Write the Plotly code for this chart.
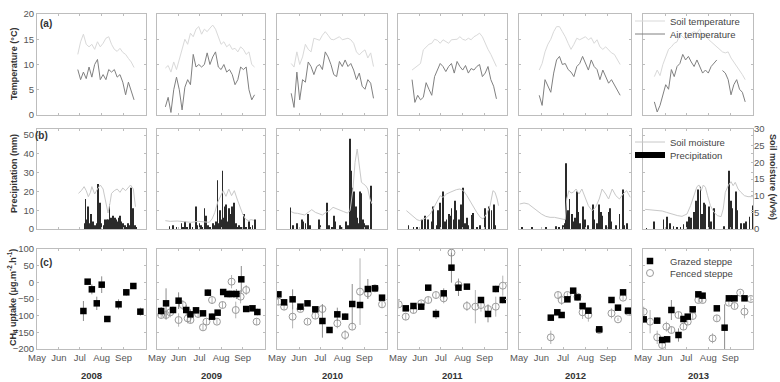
import plotly.graph_objects as go

W, H = 780, 382
YEARS = [2008, 2009, 2010, 2011, 2012, 2013]
MONTH_DOY = [121, 152, 182, 213, 244]
MONTH_LABELS = ["May", "Jun", "Jul", "Aug", "Sep"]
X_RANGE = [121, 276]

# ---------------- (a) temperature, sampled every 4 days ----------------
T_STEP = 4
t_start_2008, t_start_2009, t_start_2010 = 179, 133, 141
t_start_2011, t_start_2012, t_start_2013 = 141, 149, 137
soil_t_2008 = [12.0,14.5,16.0,14.0,13.5,14.0,13.0,14.5,13.5,14.2,15.2,15.5,14.0,13.0,12.6,13.2,12.4,12.0,11.2,10.5,9.4]
air_t_2008 = [9.0,7.0,8.5,7.2,9.5,7.5,10.0,11.0,7.0,8.0,7.0,9.0,8.5,9.0,7.5,8.0,6.5,4.0,6.5,4.5,3.0]
soil_t_2009 = [9.3,9.8,8.5,10.5,9.0,11.0,12.5,15.0,14.0,16.2,15.5,17.0,17.5,16.0,17.0,16.5,17.2,17.8,17.0,15.5,14.0,14.5,13.5,14.0,13.0,13.2,12.5,13.5,13.0,12.0,12.5,10.0,9.5]
air_t_2009 = [1.6,3.5,0.5,5.0,7.5,5.0,1.0,5.5,7.0,6.0,12.0,9.5,10.0,9.5,10.0,12.3,10.0,11.5,12.5,9.5,9.0,10.0,8.5,9.0,8.0,6.0,7.0,9.5,9.0,9.5,5.0,3.0,4.0]
soil_t_2010 = [10.2,9.5,12.5,10.0,11.5,14.0,13.0,12.5,15.2,15.0,14.8,15.8,16.5,15.8,15.0,14.9,15.2,15.5,14.9,15.0,15.2,14.9,14.2,12.5,11.9,12.5,12.9,11.3,12.3,9.6]
air_t_2010 = [4.3,1.5,8.5,3.0,7.0,6.5,10.5,9.6,8.0,9.6,10.0,9.0,12.5,11.5,10.0,8.0,7.6,10.6,9.6,10.9,9.6,10.2,8.9,7.0,8.3,5.7,5.1,7.0,6.3,3.3]
soil_t_2011 = [8.9,9.3,9.8,10.2,12.9,13.5,14.0,14.2,15.0,14.8,14.2,14.9,14.6,14.2,14.9,15.0,15.0,15.5,15.0,14.8,15.2,14.9,15.5,15.8,16.2,15.5,14.2,13.0,12.0,10.9,9.6]
air_t_2011 = [7.0,2.5,3.9,3.0,3.5,6.4,5.1,3.9,7.6,8.9,10.2,9.6,8.6,9.6,10.2,8.3,10.6,9.6,8.9,9.8,8.3,9.2,8.9,9.6,10.0,7.6,8.3,9.6,7.0,5.7,3.2]
soil_t_2012 = [8.9,10.2,12.5,14.0,15.0,16.5,17.5,17.5,16.5,15.5,14.2,13.0,14.0,15.2,14.9,15.2,15.5,14.9,15.3,14.2,14.9,13.5,13.0,13.5,12.9,12.3,12.0,11.0,10.0]
air_t_2012 = [3.9,1.9,7.0,5.7,4.5,8.3,10.9,11.6,10.0,10.2,9.0,8.5,7.6,9.6,10.2,11.6,10.2,8.9,10.9,9.6,9.0,7.0,8.9,7.6,6.3,7.0,6.0,5.0,3.9]
soil_t_2013 = [7.6,8.9,7.8,10.0,11.5,13.0,13.5,14.2,14.5,16.0,15.5,14.9,15.5,16.2,16.5,16.2,17.0,15.5,16.2,15.0,14.5,14.0,13.5,13.0,12.5,12.3,12.5,11.3,10.5,9.6,9.0,8.0,7.0]
air_t_2013 = [2.6,0.6,1.9,3.9,6.0,5.1,9.0,7.6,9.6,10.2,12.0,10.9,11.6,10.5,9.6,10.9,9.6,8.3,8.9,8.3,9.6,10.2,10.9,None,8.8,8.3,7.0,4.0,6.0,7.0,5.1,4.5,2.6]

# ---------------- (b) soil moisture (v/v %) ----------------
sm_doy_2008 = [180,184,188,191,194,197,199,203,207,211,215,219,222,225,227,231,235,239,243,247,251,254,258,261]
sm_2008 = [10.7,11.5,12.7,11.5,9.7,11.0,12.7,10.5,12.0,13.2,12.0,8.0,4.8,8.0,10.7,11.5,12.0,11.0,12.3,11.5,12.5,13.2,12.0,6.7]
sm_doy_2009 = [133,140,150,160,170,180,190,196,200,204,208,212,216,220,224,228,232,236,240,244,248,252,256,260]
sm_2009 = [2.5,2.3,2.4,2.2,2.0,2.3,2.1,2.0,3.0,5.0,8.0,10.0,11.5,9.8,12.0,10.0,11.5,9.0,6.5,4.5,3.0,2.5,2.8,2.6]
sm_doy_2010 = [141,145,150,155,160,165,170,175,180,185,190,195,200,205,210,215,220,224,228,231,234,237,240,243,246,249,252,255]
sm_2010 = [5.2,4.8,4.7,4.5,4.2,5.0,5.8,5.0,4.5,4.2,5.0,5.5,6.5,6.0,5.5,5.2,4.8,5.5,12.0,20.0,24.0,19.0,14.0,13.5,13.0,12.0,9.0,7.5]
sm_doy_2011 = [133,138,143,148,152,157,162,167,171,176,181,185,190,195,200,204,209,214,219,223,228,233,238,242,247,252,256,259,262,264]
sm_2011 = [5.5,4.5,3.5,2.8,2.5,3.0,3.5,4.5,6.0,8.0,10.0,9.5,10.5,11.0,11.5,11.8,12.0,11.5,10.0,8.5,7.0,5.0,3.5,3.0,4.5,7.0,11.5,11.0,9.0,7.0]
sm_doy_2012 = [122,128,134,140,146,152,158,164,170,176,182,185,187,190,193,196,200,204,208,212,217,222,227,232,236,241,245,250,255,260,265,270,275]
sm_2012 = [7.5,7.8,7.5,6.5,5.5,4.5,3.8,3.5,3.5,3.2,2.8,2.8,9.0,11.5,10.8,11.0,12.0,10.5,12.0,9.5,7.0,5.5,6.5,9.0,12.0,10.5,9.0,12.0,10.0,9.0,10.5,11.5,9.5]
sm_doy_2013 = [124,130,136,142,148,154,160,164,170,176,183,188,193,197,200,203,206,209,212,216,221,226,231,234,237,241,245,248,251,255,259,264,269,274,277]
sm_2013 = [5.9,5.8,5.7,5.7,5.4,5.0,4.6,4.2,4.0,3.8,4.5,7.0,10.0,12.7,13.2,11.5,13.2,12.5,10.0,7.0,5.0,4.0,3.7,6.0,11.0,13.0,14.2,13.0,14.0,12.0,11.0,10.0,9.7,9.7,9.7]

# ---------------- (b) daily precipitation (mm) ----------------
p_doy_2008 = [189,190,191,192,193,194,196,198,199,201,203,206,208,209,211,212,216,218,220,222,224,225,226,227,229,230,232,234,236,238,239,241,243,246,248,250,252,255,256,258,260,262]
p_2008 = [3,16,4,5,12,4,3,8,2,4,2,3,24,3,14,3,2,5,5,5,13,4,6,3,7,3,6,5,4,6,7,4,3,2,1,3,2,22,4,11,2,1]
p_doy_2009 = [139,144,149,156,158,161,164,168,172,177,179,182,184,186,189,191,194,197,201,204,206,208,210,211,213,215,216,218,220,222,224,225,227,229,230,232,234,236,239,242,246,249,253,255,258,262]
p_2009 = [1.5,2,1,3,1,4,1,3,1,12,2,3,2,1,11,7,2,1,3,2,4,26,3,10,5,31,6,12,13,4,11,5,8,12,3,14,3,1,2,1,8,1,4,1,2,5]
p_doy_2010 = [140,144,149,156,158,161,165,168,180,182,191,194,199,201,203,210,213,218,221,224,225,226,227,228,229,232,234,236,238,240,242,244,246,249,253]
p_2010 = [11.5,2,3,5,4,3,8,2,5,2,14,2,1,7,4,2,1,4,2,48,10,31,22,8,20,12,6,3,20,19,5,3,2,2,23]
p_doy_2011 = [136,143,148,155,159,164,169,171,176,178,181,185,188,190,193,195,197,200,202,204,208,211,213,216,219,221,226,228,233,238,245,250,254,257,259]
p_2011 = [2,1,1,5,7,5,4,12,2,10,14,20,4,5,8,7,11,5,15,10,5,13,22,3,6,2,7.5,8.5,1,2,11,12,10,13,2]
p_doy_2012 = [125,139,158,172,176,182,184,186,187,189,191,194,196,198,201,203,205,210,212,217,223,225,229,232,234,236,241,245,247,249,255,260,265,267,270]
p_2012 = [1,1,1,1.5,1,2,3,35,5,10,16,8,4,6,20,9,3,12,5,2,13,5,3,13,9,7,2,9,11,4,2,8,21,2,3]
p_doy_2013 = [126,136,150,155,159,164,169,174,178,183,186,189,193,196,199,202,204,207,209,214,217,221,235,242,245,247,252,254,259,263,266,271,276]
p_2013 = [0.5,4,5,6.5,3,1.5,1,1,2.5,4,6.5,6,9,15,21,22.5,8,14,13,12,4,11,1.5,31,15,11,20,10,3,3,4,6.5,12.5]

# ---------------- (c) CH4 uptake: grazed (g) and fenced (f) ----------------
g_doy_2008 = [187,193,199,206,213,221,237,248,258,268]
g_2008 = [-86,2,-21,-63,-7,-110,-66,-30,-11,-88]
g_err_2008 = [30,8,15,20,25,5,15,10,5,12]
f_doy_2008, f_2008, f_err_2008 = [], [], []

g_doy_2009 = [127,134,144,152,163,169,177,187,194,200,208,216,222,228,235,242,249,258,265]
g_2009 = [-86,-63,-83,-55,-83,-96,-84,-93,-31,-103,-91,-29,-35,-35,-35,9,-80,-78,-89]
g_err_2009 = [12,45,10,25,15,15,10,8,10,10,8,8,10,10,15,40,8,8,10]
f_doy_2009 = [127,134,140,152,158,165,169,180,187,192,200,207,215,228,234,241,249,264]
f_2009 = [-98,-98,-90,-113,-68,-108,-113,-95,-135,-118,-53,-118,-68,2,-83,-43,-23,-118]
f_err_2009 = [10,15,15,20,15,15,10,10,8,10,12,8,10,20,25,20,15,10]

g_doy_2010 = [123,131,143,154,164,175,185,195,206,217,227,238,249,259,269]
g_2010 = [-36,-60,-51,-73,-63,-81,-116,-143,-96,-103,-65,-68,-20,-18,-46]
g_err_2010 = [10,8,30,8,8,8,50,8,20,10,60,10,30,3,8]
f_doy_2010 = [123,131,143,154,164,175,185,206,217,227,238,249,259,269]
f_2010 = [-58,-73,-103,-80,-118,-100,-80,-123,-158,-133,-28,-33,-18,-66]
f_err_2010 = [10,10,35,8,8,10,15,15,15,10,100,15,5,10]

g_doy_2011 = [132,143,154,164,175,186,197,207,219,239,249,260,270]
g_2011 = [-78,-71,-73,-16,-95,-33,44,-16,-13,-53,-95,-20,-53]
g_err_2011 = [8,8,8,8,15,15,45,25,8,8,25,10,10]
f_doy_2011 = [122,132,143,154,164,175,186,197,207,219,231,239,249,260,270]
f_2011 = [-66,-103,-83,-63,-53,-38,-48,89,-8,-71,-73,-68,-80,-73,-10]
f_err_2011 = [8,10,10,8,10,10,15,10,20,15,50,20,15,30,30]

g_doy_2012 = [165,174,180,188,196,202,209,217,232,249,258,265,272]
g_2012 = [-106,-90,-98,-51,-25,-45,-71,-85,-141,-53,-76,-30,-85]
g_err_2012 = [8,5,5,8,5,5,8,8,5,5,8,8,8]
f_doy_2012 = [165,175,180,188,202,209,217,232,249,258,265,272]
f_2012 = [-165,-38,-53,-38,-43,-90,-98,-143,-93,-111,-46,-88]
f_err_2012 = [20,10,15,8,8,20,20,8,15,5,8,8]

g_doy_2013 = [122,141,148,155,161,171,178,184,191,199,205,225,236,242,250,264]
g_2013 = [-111,-115,-173,-171,-83,-158,-110,-103,-81,-36,-40,-78,-136,-48,-48,-48]
g_err_2013 = [10,10,8,8,30,20,8,8,8,5,5,8,70,8,8,8]
f_doy_2013 = [122,131,141,148,154,161,171,178,184,191,199,205,219,225,242,250,258,264,273]
f_2013 = [-88,-118,-165,-188,-133,-143,-98,-133,-118,-101,-53,-53,-168,-108,-61,-71,-31,-88,-50]
f_err_2013 = [15,35,20,10,15,10,10,10,10,10,8,8,15,10,8,8,5,20,8]

TEMP = [(t_start_2008, soil_t_2008, air_t_2008), (t_start_2009, soil_t_2009, air_t_2009),
        (t_start_2010, soil_t_2010, air_t_2010), (t_start_2011, soil_t_2011, air_t_2011),
        (t_start_2012, soil_t_2012, air_t_2012), (t_start_2013, soil_t_2013, air_t_2013)]
SM = [(sm_doy_2008, sm_2008), (sm_doy_2009, sm_2009), (sm_doy_2010, sm_2010),
      (sm_doy_2011, sm_2011), (sm_doy_2012, sm_2012), (sm_doy_2013, sm_2013)]
PRE = [(p_doy_2008, p_2008), (p_doy_2009, p_2009), (p_doy_2010, p_2010),
       (p_doy_2011, p_2011), (p_doy_2012, p_2012), (p_doy_2013, p_2013)]
CH4 = [(g_doy_2008, g_2008, g_err_2008, f_doy_2008, f_2008, f_err_2008),
       (g_doy_2009, g_2009, g_err_2009, f_doy_2009, f_2009, f_err_2009),
       (g_doy_2010, g_2010, g_err_2010, f_doy_2010, f_2010, f_err_2010),
       (g_doy_2011, g_2011, g_err_2011, f_doy_2011, f_2011, f_err_2011),
       (g_doy_2012, g_2012, g_err_2012, f_doy_2012, f_2012, f_err_2012),
       (g_doy_2013, g_2013, g_err_2013, f_doy_2013, f_2013, f_err_2013)]

# ---------------- layout geometry (pixels) ----------------
COL_L = [37, 157, 277, 398, 519, 643]
COL_R = [146, 265, 387, 507, 631, 753]
ROW_T = [14, 129, 249]
ROW_B = [115, 229, 349]

FONT = "Liberation Sans, Arial, sans-serif"
FRAME = "#bdbdbd"
SOIL_T_C = "#d9d9d9"
AIR_T_C = "#808080"
SM_C = "#c8c8c8"
TICK_FONT = dict(family=FONT, size=9.5, color="#555")

fig = go.Figure()


def ax(k):
    return ("" if k == 1 else str(k))


layout = {}
Y_SPECS = [
    dict(range=[0, 20], tickvals=[0, 5, 10, 15, 20]),
    dict(range=[0, 53.2], tickvals=[0, 10, 20, 30, 40, 50]),
    dict(range=[-200, 100], tickvals=[-200, -150, -100, -50, 0, 50, 100]),
]
for r in range(3):
    for c in range(6):
        k = r * 6 + c + 1
        layout["xaxis" + ax(k)] = dict(
            domain=[COL_L[c] / W, COL_R[c] / W], range=X_RANGE, anchor="y" + ax(k),
            tickvals=MONTH_DOY, ticktext=MONTH_LABELS, showticklabels=(r == 2),
            ticks="inside", ticklen=2, tickcolor=FRAME, mirror="ticks", showline=True,
            linecolor=FRAME, linewidth=1, showgrid=False, zeroline=False, tickfont=TICK_FONT,
            automargin=False,
        )
        layout["yaxis" + ax(k)] = dict(
            domain=[1 - ROW_B[r] / H, 1 - ROW_T[r] / H], anchor="x" + ax(k),
            showticklabels=(c == 0), ticks="inside", ticklen=2, tickcolor=FRAME,
            mirror="ticks", showline=True, linecolor=FRAME, linewidth=1,
            showgrid=False, zeroline=False, tickfont=TICK_FONT, automargin=False, **Y_SPECS[r]
        )
# secondary axes (soil moisture) for row b
for c in range(6):
    k = 6 + c + 1
    layout["yaxis" + str(19 + c)] = dict(
        overlaying="y" + ax(k), anchor="x" + ax(k), side="right", range=[0, 30],
        tickvals=[0, 5, 10, 15, 20, 25, 30], showticklabels=(c == 5),
        ticks="inside" if c == 5 else "", ticklen=2, tickcolor=FRAME,
        showline=False, showgrid=False, zeroline=False, visible=(c == 5), tickfont=TICK_FONT,
        automargin=False,
    )

for c, yr in enumerate(YEARS):
    last = (c == 5)
    # (a)
    k = c + 1
    start, soil, air = TEMP[c]
    xs = [start + T_STEP * i for i in range(len(soil))]
    fig.add_trace(go.Scatter(x=xs, y=soil, mode="lines", line=dict(color=SOIL_T_C, width=1),
                             name="Soil temperature", showlegend=last, legend="legend",
                             xaxis="x" + ax(k), yaxis="y" + ax(k)))
    fig.add_trace(go.Scatter(x=xs, y=air, mode="lines", line=dict(color=AIR_T_C, width=1),
                             name="Air temperature", showlegend=last, legend="legend2",
                             xaxis="x" + ax(k), yaxis="y" + ax(k)))
    # (b)
    k = 6 + c + 1
    pd_, pv = PRE[c]
    sd, sv = SM[c]
    fig.add_trace(go.Bar(x=pd_, y=pv, width=1.1, marker=dict(color="#2a2a2a", line=dict(width=0)),
                         name="Precipitation", showlegend=False,
                         xaxis="x" + ax(k), yaxis="y" + ax(k)))
    fig.add_trace(go.Scatter(x=sd, y=sv, mode="lines", line=dict(color=SM_C, width=1),
                             name="Soil moisture", showlegend=last, legend="legend3",
                             xaxis="x" + ax(k), yaxis="y" + str(19 + c)))
    if last:
        fig.add_trace(go.Scatter(x=[None], y=[None], mode="lines", line=dict(color="black", width=6),
                                 name="Precipitation", showlegend=True, legend="legend4",
                                 xaxis="x" + ax(k), yaxis="y" + ax(k)))
    # (c)
    k = 12 + c + 1
    gd, gv, ge, fd, fv, fe = CH4[c]
    fig.add_trace(go.Scatter(x=fd, y=fv, mode="markers",
                             marker=dict(symbol="circle-open", size=7, color="#9a9a9a", line=dict(width=1)),
                             error_y=dict(type="data", array=fe, color="#b4b4b4", thickness=1, width=0),
                             name="Fenced steppe", showlegend=last, legend="legend6",
                             xaxis="x" + ax(k), yaxis="y" + ax(k)))
    fig.add_trace(go.Scatter(x=gd, y=gv, mode="markers",
                             marker=dict(symbol="square", size=6.5, color="black"),
                             error_y=dict(type="data", array=ge, color="#8c8c8c", thickness=1, width=0),
                             name="Grazed steppe", showlegend=last, legend="legend5",
                             xaxis="x" + ax(k), yaxis="y" + ax(k)))

LEG = dict(xanchor="left", yanchor="middle", bgcolor="rgba(0,0,0,0)", borderwidth=0,
           font=dict(family=FONT, size=9.5, color="#444"), itemwidth=30, tracegroupgap=0)
LEG_X = 630
for name, py in [("legend", 21), ("legend2", 34), ("legend3", 142), ("legend4", 155),
                 ("legend5", 261), ("legend6", 273)]:
    layout[name] = dict(LEG, x=LEG_X / W, y=1 - py / H)

ann = []
for c, yr in enumerate(YEARS):
    ann.append(dict(x=(COL_L[c] + COL_R[c]) / 2 / W, y=1 - 375 / H, xref="paper", yref="paper",
                    xanchor="center", yanchor="middle", text="<b>%d</b>" % yr, showarrow=False,
                    font=dict(family=FONT, size=9.5, color="#333")))
for txt, px, py in [("(a)", 38, 24), ("(b)", 33, 135), ("(c)", 38, 262)]:
    ann.append(dict(x=px / W, y=1 - py / H, xref="paper", yref="paper", text="<b>%s</b>" % txt,
                    xanchor="left", yanchor="middle", showarrow=False,
                    font=dict(family=FONT, size=10, color="#333")))
for txt, px, py in [("Temperature (°C)", 14, 64), ("Precipitation (mm)", 14, 174),
                    ("CH<sub>4</sub> uptake (μg.m<sup>-2</sup>.h<sup>-1</sup>)", 12, 298)]:
    ann.append(dict(x=px / W, y=1 - py / H, xref="paper", yref="paper", text="<b>%s</b>" % txt,
                    xanchor="center", yanchor="middle", textangle=-90, showarrow=False,
                    font=dict(family=FONT, size=9, color="#333")))
ann.append(dict(x=773 / W, y=1 - 177 / H, xref="paper", yref="paper",
                xanchor="center", yanchor="middle",
                text="<b>Soil moisture (v/v%)</b>", textangle=90, showarrow=False,
                font=dict(family=FONT, size=9, color="#333")))

fig.update_layout(
    width=W, height=H, autosize=False, margin=dict(l=0, r=0, t=0, b=0, autoexpand=False),
    paper_bgcolor="white", plot_bgcolor="white", barmode="overlay", showlegend=True,
    annotations=ann, **layout
)
fig.write_html("out.html", config={"displayModeBar": False},
               post_script="document.body.style.margin='0px';document.body.style.overflow='hidden';")
